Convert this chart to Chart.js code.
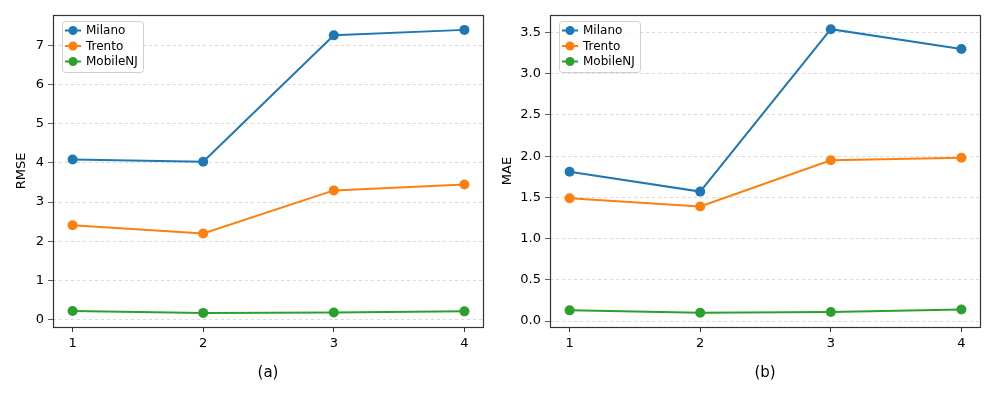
<!DOCTYPE html>
<html>
<head>
<meta charset="utf-8">
<script src="https://cdn.jsdelivr.net/npm/chart.js@4/dist/chart.umd.min.js"></script>
<style>
  html, body { margin: 0; padding: 0; background: #fff; }
  body { width: 996px; height: 399px; position: relative; overflow: hidden; font-family: "DejaVu Sans", sans-serif; }
  .panel { position: absolute; top: 0; width: 498px; height: 399px; }
  .cap { position: absolute; top: 363px; font-size: 15px; color: #000; transform: translateX(-50%); }
</style>
</head>
<body>
<div class="panel" style="left:0"><canvas id="rmse-chart" width="498" height="399"></canvas></div>
<div class="panel" style="left:498px"><canvas id="mae-chart" width="498" height="399"></canvas></div>
<div class="cap" style="left:268px">(a)</div>
<div class="cap" style="left:765px">(b)</div>

<script>
// datos
const steps = [1, 2, 3, 4];
const seriesNames = ['Milano', 'Trento', 'MobileNJ'];
const seriesColors = ['#1f77b4', '#ff7f0e', '#2ca02c'];

const rmseMilano = [4.09, 4.03, 7.26, 7.40];
const rmseTrento = [2.41, 2.20, 3.30, 3.45];
const rmseMobileNJ = [0.22, 0.17, 0.18, 0.21];

const maeMilano = [1.81, 1.57, 3.54, 3.30];
const maeTrento = [1.49, 1.39, 1.95, 1.98];
const maeMobileNJ = [0.13, 0.10, 0.11, 0.14];

const rmseTicks = [0, 1, 2, 3, 4, 5, 6, 7];
const maeTicks = [0, 0.5, 1, 1.5, 2, 2.5, 3, 3.5];

Chart.defaults.font.family = '"DejaVu Sans", sans-serif';
Chart.defaults.color = '#000';

// marco alrededor del area y leyenda dentro del grafico
const framePlugin = {
    id: 'frame',
    afterDraw(chart) {
        const ctx = chart.ctx;
        const a = chart.chartArea;
        ctx.save();
        ctx.strokeStyle = '#333';
        ctx.lineWidth = 1.2;
        ctx.strokeRect(Math.round(a.left) + 0.5, Math.round(a.top) + 0.5,
            Math.round(a.right - a.left) - 1, Math.round(a.bottom - a.top));

        // leyenda
        const x = a.left + 9, y = a.top + 6, w = 81, h = 51;
        ctx.beginPath();
        ctx.roundRect(x + 0.5, y + 0.5, w, h, 3);
        ctx.fillStyle = 'rgba(255,255,255,0.8)';
        ctx.fill();
        ctx.strokeStyle = '#d0d0d0';
        ctx.lineWidth = 1;
        ctx.stroke();
        ctx.font = '12px "DejaVu Sans", sans-serif';
        ctx.textBaseline = 'middle';
        chart.data.datasets.forEach((ds, i) => {
            const cy = y + 9.5 + i * 15.5;
            ctx.strokeStyle = ds.borderColor;
            ctx.lineWidth = 2;
            ctx.beginPath();
            ctx.moveTo(x + 3, cy);
            ctx.lineTo(x + 19, cy);
            ctx.stroke();
            ctx.fillStyle = ds.borderColor;
            ctx.beginPath();
            ctx.arc(x + 11, cy, 4.5, 0, Math.PI * 2);
            ctx.fill();
            ctx.fillStyle = '#000';
            ctx.fillText(ds.label, x + 24, cy + 0.5);
        });
        ctx.restore();
    }
};

function makeChart(id, title, values, yTicks, yMin, yMax, yWidth, rightPad, decimals, titlePad) {
    new Chart(document.getElementById(id), {
        type: 'line',
        data: {
            datasets: values.map((vals, i) => ({
                label: seriesNames[i],
                data: steps.map((s, j) => ({ x: s, y: vals[j] })),
                borderColor: seriesColors[i],
                backgroundColor: seriesColors[i],
                borderWidth: 2,
                pointRadius: 5,
                pointHoverRadius: 5,
                pointBorderWidth: 0,
                tension: 0
            }))
        },
        options: {
            responsive: false,
            animation: false,
            layout: { padding: { top: 15, right: rightPad, bottom: 42, left: 0 } },
            plugins: { legend: { display: false }, tooltip: { enabled: false } },
            scales: {
                x: {
                    type: 'linear',
                    min: 0.85,
                    max: 4.15,
                    afterBuildTicks: s => { s.ticks = steps.map(v => ({ value: v })); },
                    afterFit: s => { s.height = 30; },
                    grid: { color: 'rgba(0,0,0,0)', tickColor: '#333', tickLength: 5, drawTicks: true },
                    border: { display: false },
                    ticks: { font: { size: 13 }, padding: 4, maxRotation: 0, callback: v => String(v) }
                },
                y: {
                    min: yMin,
                    max: yMax,
                    afterBuildTicks: s => { s.ticks = yTicks.map(v => ({ value: v })); },
                    afterFit: s => { s.width = yWidth; },
                    grid: { color: 'rgba(170,170,170,0.55)', tickColor: '#333', tickLength: 5, lineWidth: 0.8 },
                    border: { display: false, dash: [3, 3] },
                    ticks: { font: { size: 13 }, padding: 4, callback: v => v.toFixed(decimals) },
                    title: { display: true, text: title, font: { size: 13 }, padding: { top: titlePad, bottom: 0 } }
                }
            }
        },
        plugins: [framePlugin]
    });
}

makeChart('rmse-chart', 'RMSE', [rmseMilano, rmseTrento, rmseMobileNJ], rmseTicks, -0.19, 7.78, 53, 14, 0, 14);
makeChart('mae-chart', 'MAE', [maeMilano, maeTrento, maeMobileNJ], maeTicks, -0.072, 3.712, 52, 15, 1, 2);
</script>
</body>
</html>
